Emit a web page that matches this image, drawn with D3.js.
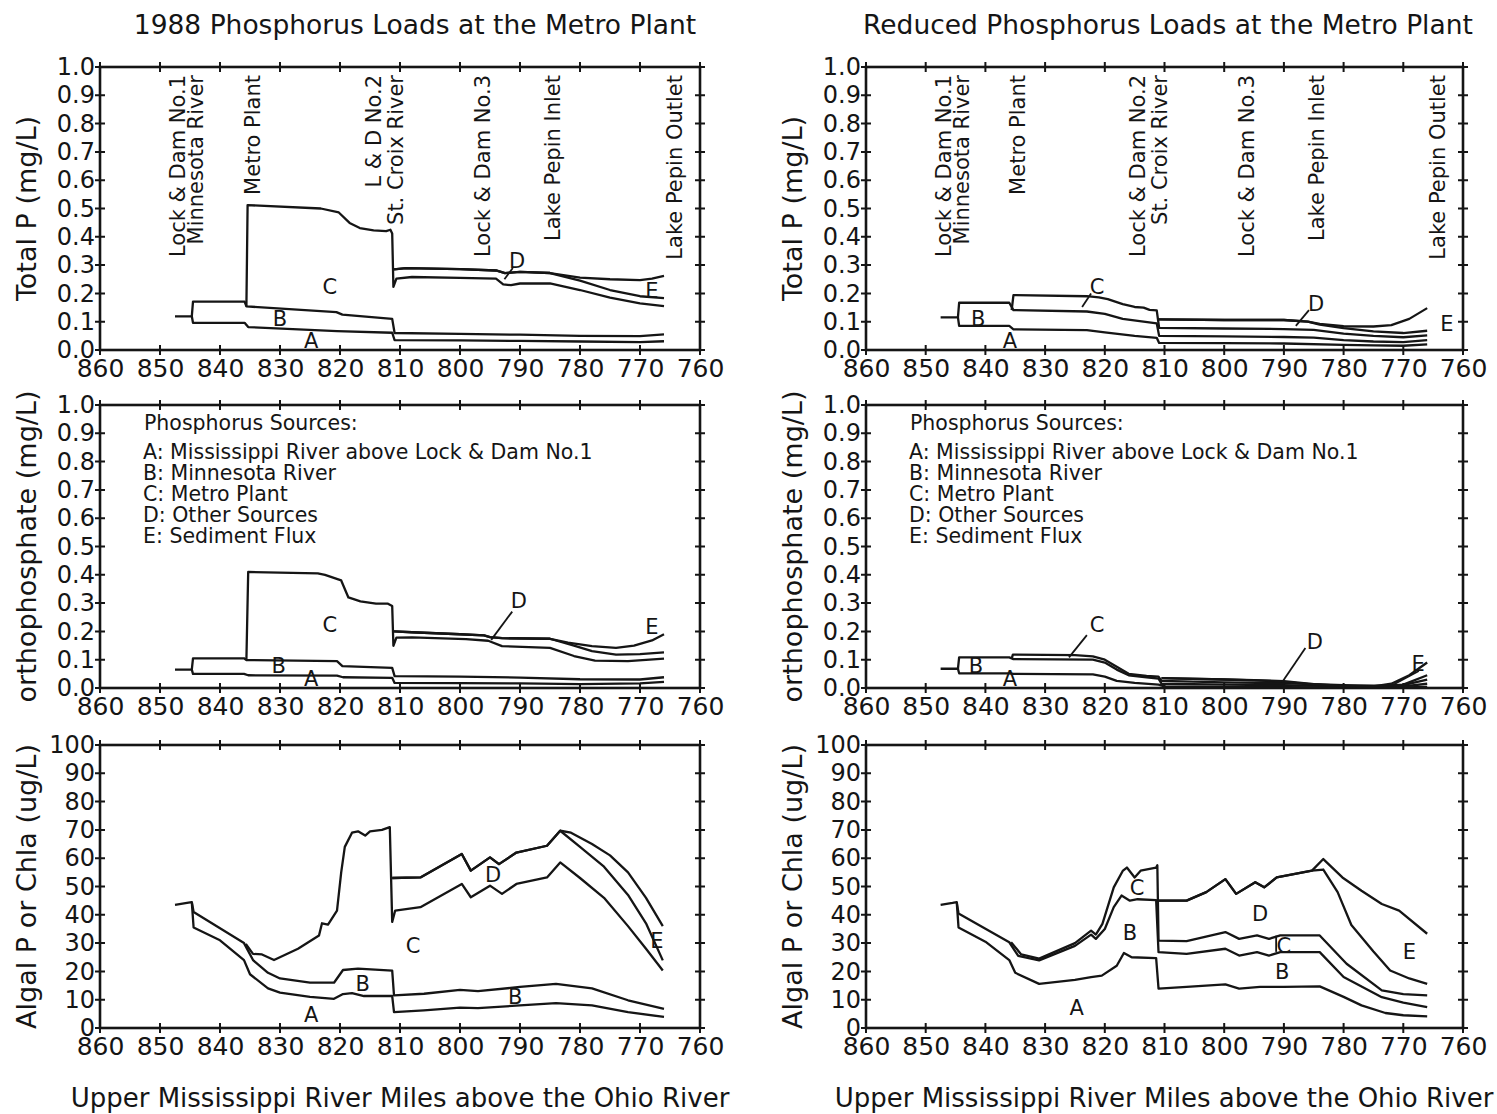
<!DOCTYPE html>
<html>
<head>
<meta charset="utf-8">
<script src="https://cdn.jsdelivr.net/npm/d3@7"></script>
<style>
  body { margin: 0; background: #fff; }
  text { font-family: "DejaVu Sans", sans-serif; fill: #151515; }
</style>
</head>
<body>
<svg id="chart" width="1497" height="1114"></svg>
<script>
// ---------- data ----------
var mileTicks = [860, 850, 840, 830, 820, 810, 800, 790, 780, 770, 760];
var mgTicks = [0, 0.1, 0.2, 0.3, 0.4, 0.5, 0.6, 0.7, 0.8, 0.9, 1.0];
var ugTicks = [0, 10, 20, 30, 40, 50, 60, 70, 80, 90, 100];

var panelTitles = ["1988 Phosphorus Loads at the Metro Plant", "Reduced Phosphorus Loads at the Metro Plant"];
var yTitles = ["Total P (mg/L)", "orthophosphate (mg/L)", "Algal P or Chla (ug/L)"];
var xTitle = "Upper Mississippi River Miles above the Ohio River";
var legendHead = "Phosphorus Sources:";
var legendItems = ["A: Mississippi River above Lock & Dam No.1", "B: Minnesota River", "C: Metro Plant", "D: Other Sources", "E: Sediment Flux"];

// site names and river mile of the label
var sites1988 = [["Lock & Dam No.1", 845.8], ["Minnesota River", 842.8], ["Metro Plant", 833.3], ["L & D No.2", 813.2],
  ["St. Croix River", 809.5], ["Lock & Dam No.3", 795], ["Lake Pepin Inlet", 783.3], ["Lake Pepin Outlet", 763]];
var sitesReduced = [["Lock & Dam No.1", 845.8], ["Minnesota River", 842.8], ["Metro Plant", 833.3], ["Lock & Dam No.2", 813.2],
  ["St. Croix River", 809.5], ["Lock & Dam No.3", 795], ["Lake Pepin Inlet", 783.3], ["Lake Pepin Outlet", 763]];

// cumulative source lines, [river mile, value]
// Total P, 1988
var tp88A = [[847.5,0.119],[844.7,0.119],[844.5,0.096],[835.9,0.096],[835.3,0.081],[820.5,0.067],[811.3,0.061],[810.9,0.035],[800,0.034],[790,0.032],[780,0.03],[770,0.028],[766,0.031]];
var tp88AB = [[844.7,0.119],[844.5,0.171],[835.9,0.171],[835.6,0.154],[820.6,0.134],[819.6,0.125],[811.3,0.11],[810.9,0.06],[800,0.057],[790,0.054],[780,0.05],[770,0.049],[766,0.055]];
var tp88ABC = [[835.6,0.154],[835.4,0.512],[823.2,0.5],[820.2,0.486],[818.4,0.449],[816.7,0.431],[814.4,0.423],[812.3,0.42],[811.6,0.425],[811.3,0.412],[811.1,0.223],[810.6,0.252],[808,0.258],[800,0.255],[794,0.252],[792.8,0.232],[791.5,0.229],[790,0.235],[785,0.235],[780,0.212],[775,0.185],[770,0.165],[766,0.155]];
var tp88ABCD = [[811,0.285],[809,0.289],[800,0.286],[794,0.281],[792.5,0.272],[790,0.276],[785,0.272],[780,0.245],[775,0.212],[770,0.19],[766,0.183]];
var tp88All = [[811,0.285],[809,0.289],[800,0.286],[794,0.281],[792.5,0.272],[790,0.276],[785,0.272],[780,0.256],[775,0.25],[770,0.247],[768,0.252],[766,0.262]];

// Total P, reduced
var tpRedA = [[847.5,0.115],[844.6,0.115],[844.4,0.085],[836,0.085],[835.3,0.073],[823,0.07],[820,0.062],[815,0.05],[811.3,0.043],[810.9,0.025],[800,0.024],[790,0.023],[780,0.018],[775,0.016],[770,0.015],[766,0.02]];
var tpRedAB = [[844.6,0.115],[844.4,0.167],[836,0.167],[835.3,0.141],[823,0.136],[820,0.128],[817,0.11],[811.3,0.094],[810.9,0.05],[800,0.048],[790,0.046],[785,0.044],[780,0.035],[775,0.03],[770,0.028],[766,0.035]];
var tpRedABC = [[835.6,0.141],[835.3,0.194],[823,0.19],[821,0.186],[819.5,0.18],[817,0.162],[815,0.152],[813.5,0.15],[812.5,0.142],[811.3,0.14],[810.9,0.078],[800,0.076],[790,0.074],[785,0.071],[780,0.058],[775,0.05],[770,0.045],[766,0.052]];
var tpRedABCD = [[811,0.108],[800,0.106],[790,0.106],[786,0.1],[784,0.09],[780,0.077],[775,0.066],[770,0.06],[766,0.068]];
var tpRedAll = [[811,0.108],[800,0.106],[790,0.106],[786,0.1],[784,0.092],[780,0.084],[775,0.083],[772,0.088],[769,0.11],[766,0.148]];

// orthophosphate, 1988
var op88A = [[847.5,0.065],[844.7,0.065],[844.5,0.05],[836,0.05],[835.3,0.045],[820.5,0.044],[819.5,0.038],[811.3,0.036],[810.9,0.018],[800,0.017],[790,0.016],[780,0.014],[770,0.016],[766,0.022]];
var op88AB = [[844.7,0.065],[844.5,0.105],[836,0.105],[835.6,0.099],[820.5,0.095],[819.6,0.077],[811.3,0.071],[810.9,0.042],[800,0.04],[790,0.037],[780,0.031],[770,0.03],[766,0.038]];
var op88ABC = [[835.6,0.099],[835.3,0.41],[823.7,0.405],[822.5,0.4],[819.8,0.38],[818.6,0.32],[816.6,0.306],[814,0.298],[812,0.298],[811.3,0.29],[811.1,0.149],[810.6,0.178],[808,0.179],[799,0.173],[795.3,0.167],[793,0.148],[785,0.142],[781,0.113],[777.5,0.097],[772,0.095],[766,0.104]];
var op88ABCD = [[811,0.2],[808,0.197],[800,0.19],[796,0.186],[795,0.18],[793,0.176],[785,0.174],[781,0.15],[778,0.13],[774,0.118],[770,0.12],[766,0.126]];
var op88All = [[811,0.2],[808,0.197],[800,0.19],[796,0.186],[795,0.18],[793,0.176],[785,0.174],[782,0.16],[778,0.148],[774,0.142],[771,0.15],[768,0.168],[766,0.19]];

// orthophosphate, reduced
var opRedA = [[847.5,0.068],[844.6,0.068],[844.4,0.052],[836,0.052],[835.3,0.05],[822,0.048],[820,0.04],[818,0.025],[815,0.018],[811,0.012],[810,0.006],[800,0.004],[790,0.003],[780,0.002],[770,0.002],[766,0.004]];
var opRedAB = [[844.6,0.068],[844.4,0.108],[836,0.108],[835.3,0.102],[822,0.1],[820,0.09],[818,0.065],[816,0.045],[813,0.038],[811,0.033],[810.5,0.015],[800,0.012],[790,0.01],[780,0.006],[775,0.005],[770,0.006],[766,0.015]];
var opRedABC = [[835.6,0.104],[835.4,0.118],[825,0.116],[822,0.112],[820,0.1],[818,0.075],[816,0.05],[813,0.043],[811,0.04],[810.5,0.025],[800,0.02],[790,0.017],[780,0.01],[775,0.008],[770,0.01],[766,0.03]];
var opRedABCD = [[810.5,0.035],[800,0.03],[795,0.027],[790,0.022],[785,0.012],[780,0.006],[775,0.005],[770,0.012],[766,0.045]];
var opRedAll = [[810.5,0.035],[800,0.03],[795,0.028],[790,0.024],[785,0.014],[780,0.007],[775,0.006],[772,0.015],[769,0.045],[766,0.09]];

// algal P / chla, 1988
var alg88A = [[847.5,43.5],[845.5,44.2],[844.7,44.5],[844.4,35.5],[840,31],[836,24],[835,19],[832,14],[830,12.5],[825,11],[821,10.3],[819.5,12],[818,12.3],[816,11.3],[811.3,11.3],[811,5.6],[806,6.2],[800,7.2],[797,7],[790,8],[784,8.8],[778,8],[772,5.6],[766,3.9]];
var alg88AB = [[844.7,44.5],[844.4,41],[836,30],[834.5,24],[832,19.5],[830,17.5],[825,16],[821,16],[819.5,20.5],[817,21],[811.3,20.3],[811,11.5],[806,12.1],[800,13.5],[797,13],[790,14.5],[784,15.6],[778,14],[772,9.8],[766,6.8]];
var alg88ABC = [[835.7,29.7],[834.5,26.2],[833,26],[831,24],[827,28],[823.5,32.7],[823,37],[822,36.5],[820.5,41.5],[819.8,55],[819.2,64],[818,69],[817,69.5],[815.8,68],[815,69.5],[813,70],[811.7,71],[811.3,37.5],[810.8,41.5],[806.6,42.7],[799.7,50.9],[798.2,46.2],[795,50.3],[793,47.4],[790.6,50.9],[785.5,53.2],[783.3,58.5],[780,53],[776,46],[772,36],[769,28],[766.2,20.3]];
var alg88ABCD = [[811.3,53],[806.6,53.2],[799.7,61.5],[798.2,55.6],[795,60.3],[793.5,57.9],[790.6,62],[785.5,64.4],[783.3,69.7],[780,64],[776,57],[772,47],[769,37],[766.2,23.9]];
var alg88All = [[811.3,53],[806.6,53.2],[799.7,61.5],[798.2,55.6],[795,60.3],[793.5,57.9],[790.6,62],[785.5,64.4],[783.3,69.7],[781.5,69],[778,65],[775,61],[772,55],[769,46],[766.2,36]];

// algal P / chla, reduced
var algRedA = [[847.5,43.5],[845.5,44.2],[844.8,44.5],[844.5,35.5],[840,30.5],[836,24],[835,19.5],[831,15.6],[825,17],[822.3,18],[820.5,18.5],[818,22],[816.8,26.5],[815.5,25],[811.4,24.7],[811,13.9],[806.3,14.5],[799.8,15.4],[797.5,13.9],[794,14.5],[790,14.5],[784,14.7],[780,11],[777,8],[773,5.3],[770,4.5],[766,4.1]];
var algRedAB = [[844.8,44.5],[844.5,40.5],[836,30.3],[834.5,25.5],[831,23.9],[825,29],[822.3,33],[821.5,31.5],[820,35],[818.5,42.7],[817.2,46.8],[815.8,45],[814.5,45.5],[811.4,45.2],[811,26.8],[806.3,26.2],[799.8,28],[797.5,25.6],[794.5,26.8],[792.5,25.6],[790.6,26.8],[784,26.8],[780,18],[773.6,10.9],[770,9],[766,7.4]];
var algRedABC = [[835.7,30.3],[834,26],[831,24.5],[825,30],[822.3,34.4],[821.5,33],[820.4,36.8],[818.5,49.7],[817,55.5],[816.3,56.7],[815,53.2],[814,55.6],[811.4,56.7],[811.2,57.5],[811,30.9],[806.3,30.7],[799.8,33.9],[797.5,31.5],[794.5,32.7],[792.5,31.5],[790.6,32.7],[784,32.7],[779.5,22.7],[773.6,13.3],[770,12],[766,11.5]];
var algRedABCD = [[811.1,45],[806.3,45],[803,48],[799.8,52.6],[798,47.4],[794.8,51.5],[793.3,49.7],[791.2,53.2],[785.3,55.6],[783.4,56],[781,48],[778.7,36.4],[775,27],[772.2,20.3],[769,17.5],[766,15.6]];
var algRedAll = [[811.1,45],[806.3,45],[803,48],[799.8,52.6],[798,47.4],[794.8,51.5],[793.3,49.7],[791.2,53.2],[785.3,55.6],[783.4,59.7],[780.2,53.2],[777,48.5],[773.6,43.8],[770.7,41.5],[766,33.3]];

// letter labels [letter, mile, value] and leader lines
var tp88Letters = [["C",821.7,0.223],["B",830,0.113],["A",824.8,0.035],["D",790.5,0.318],["E",768,0.212]];
var tp88Leaders = [[[791.2,0.29],[792.6,0.25]]];
var tpRedLetters = [["B",841.2,0.113],["A",835.9,0.035],["C",821.3,0.223],["D",784.6,0.163],["E",762.7,0.095]];
var tpRedLeaders = [[[822.3,0.2],[823.8,0.152]],[[785.8,0.141],[788,0.085]]];
var op88Letters = [["C",821.7,0.223],["B",830.2,0.081],["A",824.8,0.035],["D",790.2,0.311],["E",768,0.216]];
var op88Leaders = [[[791.3,0.27],[794.8,0.17]]];
var opRedLetters = [["B",841.6,0.081],["A",835.9,0.035],["C",821.3,0.223],["D",784.8,0.163],["E",767.5,0.088]];
var opRedLeaders = [[[823,0.187],[826,0.108]],[[786.4,0.141],[790.3,0.02]],[[767.4,0.06],[772,0.008]]];
var alg88Letters = [["B",816.2,15.9],["D",794.5,54.1],["C",807.8,29.3],["A",824.8,4.9],["B",790.8,11],["E",767.2,31.1]];
var alg88Leaders = [];
var algRedLetters = [["C",814.6,49.8],["B",815.8,33.9],["D",794,40.6],["A",824.7,7.4],["C",790,29.3],["B",790.3,20.1],["E",769,26.9]];
var algRedLeaders = [[[791.3,32.6],[791.3,26.9]]];

// ---------- layout ----------
var colBox = [[100, 700], [866, 1463]];
var rowBox = [[67, 350], [405, 688], [745, 1028]];

var panels = [
  {col: 0, row: 0, domain: [0, 1], ticks: mgTicks, fmt: d3.format(".1f"), lines: [tp88A, tp88AB, tp88ABC, tp88ABCD, tp88All], letters: tp88Letters, leaders: tp88Leaders, sites: sites1988},
  {col: 1, row: 0, domain: [0, 1], ticks: mgTicks, fmt: d3.format(".1f"), lines: [tpRedA, tpRedAB, tpRedABC, tpRedABCD, tpRedAll], letters: tpRedLetters, leaders: tpRedLeaders, sites: sitesReduced},
  {col: 0, row: 1, domain: [0, 1], ticks: mgTicks, fmt: d3.format(".1f"), lines: [op88A, op88AB, op88ABC, op88ABCD, op88All], letters: op88Letters, leaders: op88Leaders, legend: true},
  {col: 1, row: 1, domain: [0, 1], ticks: mgTicks, fmt: d3.format(".1f"), lines: [opRedA, opRedAB, opRedABC, opRedABCD, opRedAll], letters: opRedLetters, leaders: opRedLeaders, legend: true},
  {col: 0, row: 2, domain: [0, 100], ticks: ugTicks, fmt: d3.format("d"), lines: [alg88A, alg88AB, alg88ABC, alg88ABCD, alg88All], letters: alg88Letters, leaders: alg88Leaders},
  {col: 1, row: 2, domain: [0, 100], ticks: ugTicks, fmt: d3.format("d"), lines: [algRedA, algRedAB, algRedABC, algRedABCD, algRedAll], letters: algRedLetters, leaders: algRedLeaders}
];

var svg = d3.select("#chart");
var ink = "#151515";
var tk = 5;

panels.forEach(function(p) {
  var xr = colBox[p.col], yr = rowBox[p.row];
  var x = d3.scaleLinear().domain([860, 760]).range(xr);
  var y = d3.scaleLinear().domain(p.domain).range([yr[1], yr[0]]);
  var g = svg.append("g");

  // frame
  g.append("rect")
    .attr("x", xr[0]).attr("y", yr[0])
    .attr("width", xr[1] - xr[0]).attr("height", yr[1] - yr[0])
    .attr("fill", "none").attr("stroke", ink).attr("stroke-width", 2.6);

  // crossing tick marks on all four sides
  g.selectAll("path.xt").data(mileTicks).enter().append("path")
    .attr("class", "xt")
    .attr("d", function(d) {
      var px = x(d);
      return "M" + px + "," + (yr[1] - tk) + "V" + (yr[1] + tk) + "M" + px + "," + (yr[0] - tk) + "V" + (yr[0] + tk);
    })
    .attr("stroke", ink).attr("stroke-width", 2);
  g.selectAll("path.yt").data(p.ticks).enter().append("path")
    .attr("class", "yt")
    .attr("d", function(d) {
      var py = y(d);
      return "M" + (xr[0] - tk) + "," + py + "H" + (xr[0] + tk) + "M" + (xr[1] - tk) + "," + py + "H" + (xr[1] + tk);
    })
    .attr("stroke", ink).attr("stroke-width", 2);

  // tick labels
  var xa = g.append("g").attr("transform", "translate(0," + yr[1] + ")")
    .call(d3.axisBottom(x).tickValues(mileTicks).tickSize(0).tickPadding(9).tickFormat(d3.format("d")));
  xa.select(".domain").remove();
  xa.selectAll("text").attr("font-size", 25).attr("font-family", "DejaVu Sans").attr("fill", ink);

  var ya = g.append("g").attr("transform", "translate(" + xr[0] + ",0)")
    .call(d3.axisLeft(y).tickValues(p.ticks).tickSize(0).tickPadding(5).tickFormat(p.fmt));
  ya.select(".domain").remove();
  ya.selectAll("text").attr("font-size", 24).attr("font-family", "DejaVu Sans").attr("fill", ink);

  // source lines
  var line = d3.line().x(function(d) { return x(d[0]); }).y(function(d) { return y(d[1]); });
  g.selectAll("path.src").data(p.lines).enter().append("path")
    .attr("class", "src")
    .attr("d", line)
    .attr("fill", "none").attr("stroke", ink).attr("stroke-width", 2.3)
    .attr("stroke-linejoin", "round");

  // leader lines
  g.selectAll("path.lead").data(p.leaders).enter().append("path")
    .attr("class", "lead")
    .attr("d", line)
    .attr("fill", "none").attr("stroke", ink).attr("stroke-width", 1.8);

  // letters
  g.selectAll("text.let").data(p.letters).enter().append("text")
    .attr("class", "let")
    .attr("x", function(d) { return x(d[1]); })
    .attr("y", function(d) { return y(d[2]); })
    .attr("dy", "0.36em")
    .attr("text-anchor", "middle")
    .attr("font-size", 21)
    .text(function(d) { return d[0]; });

  // site labels
  if (p.sites) {
    g.selectAll("text.site").data(p.sites).enter().append("text")
      .attr("class", "site")
      .attr("transform", function(d) { return "translate(" + x(d[1]) + "," + (yr[0] + 8) + ") rotate(-90)"; })
      .attr("text-anchor", "end")
      .attr("font-size", 21)
      .text(function(d) { return d[0]; });
  }

  // legend
  if (p.legend) {
    g.append("text")
      .attr("x", xr[0] + 44).attr("y", yr[0] + 25)
      .attr("font-size", 20.5)
      .text(legendHead);
    g.selectAll("text.leg").data(legendItems).enter().append("text")
      .attr("class", "leg")
      .attr("x", xr[0] + 43)
      .attr("y", function(d, i) { return yr[0] + 54 + i * 21; })
      .attr("font-size", 20.5)
      .text(function(d) { return d; });
  }

  // y axis title
  var cy = (yr[0] + yr[1]) / 2;
  g.append("text")
    .attr("transform", "translate(" + (xr[0] - 64) + "," + cy + ") rotate(-90)")
    .attr("text-anchor", "middle")
    .attr("font-size", 27)
    .text(yTitles[p.row]);
});

// column titles and x axis titles
var titleX = [415, 1168];
var xTitleX = [400, 1164];
[0, 1].forEach(function(c) {
  svg.append("text")
    .attr("x", titleX[c]).attr("y", 34)
    .attr("text-anchor", "middle")
    .attr("font-size", 26.5)
    .text(panelTitles[c]);
  svg.append("text")
    .attr("x", xTitleX[c]).attr("y", 1107)
    .attr("text-anchor", "middle")
    .attr("font-size", 26)
    .text(xTitle);
});
</script>
</body>
</html>
